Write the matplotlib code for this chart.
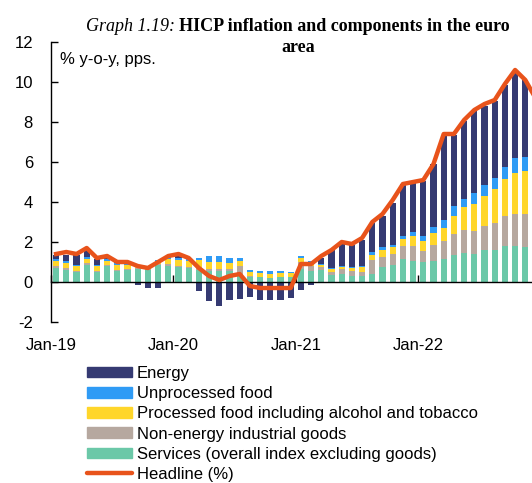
import numpy as np
import matplotlib
matplotlib.use("Agg")
import matplotlib.pyplot as plt
from matplotlib.patches import Patch
from matplotlib.lines import Line2D

# Monthly contributions to HICP inflation, Jan-19 .. Dec-22 (pps)
months = [f"{m}-{y}" for y in range(19, 23)
          for m in ["Jan", "Feb", "Mar", "Apr", "May", "Jun",
                    "Jul", "Aug", "Sep", "Oct", "Nov", "Dec"]]

services = [0.70, 0.60, 0.50, 0.87, 0.48, 0.78, 0.57, 0.58, 0.67, 0.62, 0.87, 0.78,
            0.75, 0.72, 0.62, 0.57, 0.57, 0.57, 0.37, 0.25, 0.23, 0.20, 0.23, 0.23,
            0.65, 0.55, 0.60, 0.33, 0.42, 0.28, 0.28, 0.42, 0.73, 0.83, 1.15, 1.03,
            1.00, 1.07, 1.15, 1.37, 1.45, 1.40, 1.58, 1.62, 1.78, 1.82, 1.75, 1.90]
neig = [0.08, 0.08, 0.05, 0.08, 0.08, 0.05, 0.05, 0.05, 0.03, 0.05, 0.05, 0.12,
        0.07, 0.05, 0.08, 0.08, 0.08, 0.08, 0.45, 0.03, 0.03, 0.02, 0.03, 0.03,
        0.33, 0.25, 0.15, 0.17, 0.23, 0.28, 0.20, 0.67, 0.52, 0.57, 0.63, 0.75,
        0.53, 0.77, 0.88, 1.03, 1.13, 1.17, 1.20, 1.33, 1.50, 1.60, 1.65, 1.70]
processed = [0.28, 0.28, 0.25, 0.22, 0.25, 0.23, 0.25, 0.22, 0.12, 0.10, 0.12, 0.27,
             0.30, 0.28, 0.38, 0.33, 0.35, 0.30, 0.25, 0.22, 0.17, 0.16, 0.17, 0.17,
             0.22, 0.20, 0.10, 0.15, 0.10, 0.13, 0.25, 0.28, 0.37, 0.33, 0.38, 0.50,
             0.50, 0.62, 0.67, 0.88, 1.15, 1.35, 1.50, 1.70, 1.87, 2.03, 2.17, 2.30]
unprocessed = [0.08, 0.08, 0.05, 0.08, 0.05, 0.08, 0.07, 0.07, 0.05, 0.04, 0.08, 0.12,
               0.10, 0.08, 0.12, 0.30, 0.32, 0.25, 0.13, 0.12, 0.12, 0.17, 0.12, 0.08,
               0.08, 0.07, 0.05, 0.07, 0.07, 0.07, 0.08, 0.13, 0.12, 0.12, 0.12, 0.22,
               0.25, 0.30, 0.38, 0.50, 0.43, 0.53, 0.55, 0.55, 0.60, 0.75, 0.68, 0.62]
energy = [0.22, 0.30, 0.50, 0.33, 0.30, 0.10, 0.05, -0.05, -0.17, -0.30, -0.30, 0.02,
          0.12, -0.03, -0.43, -0.97, -1.18, -0.92, -0.83, -0.77, -0.88, -0.88, -0.88, -0.80,
          -0.38, -0.17, 0.30, 0.90, 1.15, 1.10, 1.30, 1.45, 1.55, 2.10, 2.60, 2.43,
          2.75, 3.12, 4.28, 3.58, 3.87, 4.08, 3.95, 3.83, 4.12, 4.25, 3.87, 2.68]
headline = [1.4, 1.5, 1.4, 1.7, 1.2, 1.3, 1.0, 1.0, 0.8, 0.7, 1.0, 1.3,
            1.4, 1.2, 0.7, 0.3, 0.1, 0.3, 0.4, -0.2, -0.3, -0.3, -0.3, -0.3,
            0.9, 0.9, 1.3, 1.6, 2.0, 1.9, 2.2, 3.0, 3.4, 4.1, 4.9, 5.0,
            5.1, 5.9, 7.4, 7.4, 8.1, 8.6, 8.9, 9.1, 9.9, 10.6, 10.1, 9.2]

tick_labels = ["Jan-19", "Jan-20", "Jan-21", "Jan-22"]

col_energy = "#353a72"
col_unproc = "#2f9bf5"
col_proc = "#ffd62a"
col_neig = "#b6a89f"
col_serv = "#6bc8a8"
col_head = "#e8531b"

plt.rcParams["font.family"] = ["Liberation Sans", "DejaVu Sans"]
plt.rcParams["axes.unicode_minus"] = False
fs = 12

fig = plt.figure(figsize=(5.32, 4.83), dpi=100)
ax = fig.add_axes([51 / 532, 161 / 483, 489.6 / 532, 280 / 483])

x = np.arange(len(months))
s = np.array(services)
n = np.array(neig)
p = np.array(processed)
u = np.array(unprocessed)
e = np.array(energy)
w = 0.62

ax.bar(x, s, w, color=col_serv, zorder=2)
ax.bar(x, n, w, bottom=s, color=col_neig, zorder=2)
ax.bar(x, p, w, bottom=s + n, color=col_proc, zorder=2)
ax.bar(x, u, w, bottom=s + n + p, color=col_unproc, zorder=2)
ax.bar(x, e, w, bottom=np.where(e >= 0, s + n + p + u, 0), color=col_energy, zorder=2)
ax.plot(x, headline, color=col_head, lw=3.2, zorder=4)

ax.set_xlim(-0.5, len(months) - 0.5)
ax.set_ylim(-2, 12)
ax.set_yticks(range(-2, 13, 2))
ax.set_xticks([-0.5, 11.5, 23.5, 35.5])
ax.set_xticklabels(tick_labels)

for side in ["top", "right"]:
    ax.spines[side].set_visible(False)
ax.spines["bottom"].set_position(("data", 0))
ax.spines["bottom"].set_zorder(3)
ax.spines["left"].set_linewidth(1.0)
ax.spines["bottom"].set_linewidth(1.0)
ax.tick_params(axis="y", direction="in", length=5, width=1, pad=13, labelsize=fs)
ax.tick_params(axis="x", direction="in", length=5, width=1, pad=40.5, labelsize=fs)

ax.text(0.018, 0.936, "% y-o-y, pps.", transform=ax.transAxes, fontsize=fs,
        va="center", ha="left")

# Title: italic label + bold text, centred on one line, second line below
fig.canvas.draw()
r = fig.canvas.get_renderer()
t1 = fig.text(0, 0, "Graph 1.19: ", family="Liberation Serif", style="italic", fontsize=13)
t2 = fig.text(0, 0, "HICP inflation and components in the euro",
              family="Liberation Serif", weight="bold", fontsize=13)
w1 = t1.get_window_extent(r).width
w2 = t2.get_window_extent(r).width
cx = 298
base = 483 - 31
x0 = cx - (w1 + w2) / 2
t1.set_position((x0 / 532, base / 483))
t2.set_position(((x0 + w1) / 532, base / 483))
t1.set_va("baseline")
t2.set_va("baseline")
fig.text(cx / 532, (483 - 52) / 483, "area", family="Liberation Serif", weight="bold",
         fontsize=13, ha="center", va="baseline")

handles = [Patch(color=col_energy), Patch(color=col_unproc), Patch(color=col_proc),
           Patch(color=col_neig), Patch(color=col_serv),
           Line2D([], [], color=col_head, lw=3.2, solid_capstyle="round")]
labels = ["Energy", "Unprocessed food", "Processed food including alcohol and tobacco",
          "Non-energy industrial goods", "Services (overall index excluding goods)",
          "Headline (%)"]
fig.legend(handles, labels, loc="upper left", bbox_to_anchor=(87 / 532, 1 - 366 / 483),
           frameon=False, fontsize=fs, handlelength=2.7, handletextpad=0.28,
           handleheight=0.6, labelspacing=0.31, borderpad=0, borderaxespad=0)

fig.savefig("out.png", dpi=100)
